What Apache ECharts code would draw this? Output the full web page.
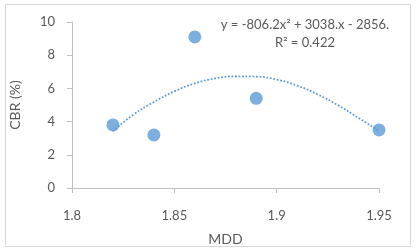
<!DOCTYPE html>
<html><head><meta charset="utf-8">
<script src="https://cdn.jsdelivr.net/npm/echarts@6/dist/echarts.min.js"></script>
<style>html,body{margin:0;padding:0;background:#fff}#c{width:416px;height:251px}</style>
</head><body><div id="c"></div>
<script>
const mdd = [1.82, 1.84, 1.86, 1.89, 1.95];
const cbr = [3.8, 3.2, 9.1, 5.4, 3.5];
const trendX = [1.82, 1.83, 1.84, 1.85, 1.86, 1.87, 1.88, 1.89, 1.90, 1.91, 1.92, 1.93, 1.94, 1.95];
const trendY = [3.42, 4.42, 5.18, 5.82, 6.3, 6.6, 6.73, 6.71, 6.53, 6.17, 5.64, 4.98, 4.22, 3.45];
const xTicks = [1.8, 1.85, 1.9, 1.95];
const yTicks = [0, 2, 4, 6, 8, 10];
const eqText = 'y = -806.2x² + 3038.x - 2856.';
const r2Text = 'R² = 0.422';

const font = 'Lato, "Open Sans", sans-serif';
const txt = '#595959';
const chart = echarts.init(document.getElementById('c'));
chart.setOption({
  animation: false,
  grid: {left: 70, right: 37, top: 22, bottom: 61},
  xAxis: {
    type: 'value', min: 1.8, max: 1.95, interval: 0.05,
    name: 'MDD', nameLocation: 'middle', nameGap: 44,
    nameTextStyle: {color: txt, fontSize: 14, fontFamily: font},
    axisLine: {show: true, lineStyle: {color: '#bfbfbf'}},
    axisTick: {show: true, length: 5, lineStyle: {color: '#bfbfbf'}},
    splitLine: {show: false},
    axisLabel: {color: txt, fontSize: 13, fontFamily: font, margin: 21,
      formatter: v => { const t = xTicks.find(k => Math.abs(k - v) < 1e-6); return t === undefined ? '' : String(t); }}
  },
  yAxis: {
    type: 'value', min: 0, max: 10, interval: 2,
    name: 'CBR (%)', nameLocation: 'middle', nameGap: 50, nameRotate: 90,
    nameTextStyle: {color: txt, fontSize: 14, fontFamily: font},
    axisLine: {show: true, lineStyle: {color: '#bfbfbf'}},
    axisTick: {show: true, inside: false, length: 5, lineStyle: {color: '#bfbfbf'}},
    splitLine: {show: false},
    axisLabel: {color: txt, fontSize: 13, fontFamily: font, margin: 17,
      formatter: v => yTicks.includes(v) ? String(v) : ''}
  },
  series: [
    {type: 'line', data: trendX.map((x, i) => [x, trendY[i]]), smooth: true, showSymbol: false, symbol: 'none',
     lineStyle: {color: '#5b9bd5', width: 1.75, type: [1.75, 1.75]}, z: 1},
    {type: 'scatter', data: mdd.map((x, i) => [x, cbr[i]]), symbolSize: 13,
     itemStyle: {color: '#5b9bd5'}, z: 2}
  ],
  graphic: [
    {type: 'rect', shape: {x: 5.5, y: 4.5, width: 405, height: 242}, style: {fill: 'none', stroke: '#d9d9d9', lineWidth: 1}, silent: true},
    {type: 'text', x: 305, y: 25, style: {text: eqText, fill: txt, font: '13px ' + font, textAlign: 'center', textVerticalAlign: 'middle'}},
    {type: 'text', x: 305, y: 43, style: {text: r2Text, fill: txt, font: '13px ' + font, textAlign: 'center', textVerticalAlign: 'middle'}}
  ]
});
</script></body></html>
